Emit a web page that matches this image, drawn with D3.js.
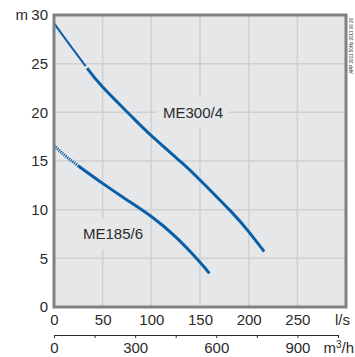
<!DOCTYPE html>
<html><head><meta charset="utf-8">
<script src="https://cdn.jsdelivr.net/npm/d3@7"></script>
<style>body{margin:0;background:#fff}svg{display:block}text{font-family:"Liberation Sans",Arial,sans-serif;fill:#2b2b2b}</style>
</head><body><div id="c"></div>
<script>
// Data (Q in l/s, H in m)
const me300Thin  = [[0,29.15],[16,26.95],[32.5,24.75]];
const me300Thick = [[34,24.55],[50,22.6],[78,19.75],[100,17.6],[131,14.85],[150,13.05],[182,9.8],[200,7.75],[216,5.7]];
const me185Dotted = [[0,16.57],[12,15.5],[25,14.5]];
const me185Solid  = [[25,14.5],[50,12.7],[75,11.0],[100,9.3],[125,7.2],[150,4.6],[159.6,3.46]];
const yTicks = [0,5,10,15,20,25,30];
const xTicks = [0,50,100,150,200,250];
const m3hTicks = [0,150,300,450,600,750,900,1050];
const m3hLabels = [0,300,600,900];
const curveLabels = [{text:"ME300/4", q:142.8, h:20}, {text:"ME185/6", q:60.6, h:7.5}];
const sideNote = "APP 2001 50Hz 2013 06 26";

const W=355,H=357;
const svg=d3.select("#c").append("svg").attr("width",W).attr("height",H);
const x=d3.scaleLinear().domain([0,300]).range([54,346]);
const y=d3.scaleLinear().domain([0,30]).range([307,15]);
const xm=d3.scaleLinear().domain([0,1050]).range([54,338]);

// plot background
svg.append("rect").attr("x",x(0)).attr("y",y(30)).attr("width",x(300)-x(0)).attr("height",y(0)-y(30)).attr("fill","#e6e7e9");
// grid
const grid=svg.append("g").attr("stroke","#cfd0d2").attr("stroke-width",1.5);
grid.selectAll("line.h").data(yTicks.filter(d=>d>0&&d<30)).join("line")
  .attr("x1",x(0)).attr("x2",x(300)).attr("y1",d=>y(d)).attr("y2",d=>y(d));
grid.selectAll("line.v").data(xTicks.filter(d=>d>0)).join("line")
  .attr("y1",y(0)).attr("y2",y(30)).attr("x1",d=>x(d)).attr("x2",d=>x(d));

// curve label boxes + labels
const lab=svg.append("g");
curveLabels.forEach(l=>{
  lab.append("rect").attr("x",x(l.q)-36).attr("y",y(l.h)-15.5).attr("width",72).attr("height",31).attr("fill","#e6e7e9");
  lab.append("text").attr("x",x(l.q)).attr("y",y(l.h)).attr("dy","0.35em").attr("text-anchor","middle").attr("font-size",15).text(l.text);
});

// curves
const line=d3.line().x(d=>x(d[0])).y(d=>y(d[1])).curve(d3.curveNatural);
const blue="#0a5fa6";
svg.append("path").attr("d",line(me300Thin)).attr("fill","none").attr("stroke",blue).attr("stroke-width",2);
svg.append("path").attr("d",line(me300Thick)).attr("fill","none").attr("stroke",blue).attr("stroke-width",3);
svg.append("path").attr("d",line(me185Dotted)).attr("fill","none").attr("stroke",blue).attr("stroke-width",3).attr("stroke-dasharray","1.2,1");
svg.append("path").attr("d",line(me185Solid)).attr("fill","none").attr("stroke",blue).attr("stroke-width",3);

// border
svg.append("rect").attr("x",x(0)).attr("y",y(30)).attr("width",x(300)-x(0)).attr("height",y(0)-y(30))
  .attr("fill","none").attr("stroke","#808184").attr("stroke-width",3);

// y axis
const ya=svg.append("g").attr("transform",`translate(${x(0)-1},0)`)
  .call(d3.axisLeft(y).tickValues(yTicks).tickSize(0).tickPadding(5));
ya.select(".domain").remove();
ya.selectAll("text").attr("font-size",15).attr("font-family",null).attr("fill","#2b2b2b");
svg.append("text").attr("x",28).attr("y",y(30)).attr("dy","0.35em").attr("text-anchor","end").attr("font-size",15).text("m");

// x axis l/s
const xa=svg.append("g").attr("transform",`translate(0,${y(0)})`)
  .call(d3.axisBottom(x).tickValues(xTicks).tickSize(0).tickPadding(7.5));
xa.select(".domain").remove();
xa.selectAll("text").attr("font-size",15).attr("font-family",null).attr("fill","#2b2b2b");
svg.append("text").attr("x",350).attr("y",320).attr("dy","0.35em").attr("text-anchor","end").attr("font-size",15).text("l/s");

// x axis m3/h
const ma=svg.append("g").attr("transform","translate(0,335)")
  .call(d3.axisBottom(xm).tickValues(m3hTicks).tickSize(3).tickPadding(4.5).tickSizeOuter(0)
    .tickFormat(d=>m3hLabels.includes(d)?d:""));
ma.select(".domain").attr("stroke","#2b2b2b");
ma.selectAll("line").attr("stroke","#2b2b2b");
ma.selectAll("text").attr("font-size",15).attr("font-family",null).attr("fill","#2b2b2b");
const mt=svg.append("text").attr("x",354).attr("y",348).attr("dy","0.35em").attr("text-anchor","end").attr("font-size",15);
mt.append("tspan").text("m");
mt.append("tspan").attr("font-size",10).attr("dy","-5").text("3");
mt.append("tspan").attr("dy","5").text("/h");

// side note
svg.append("text").attr("transform","translate(353,18) rotate(-90)").attr("text-anchor","end")
  .attr("font-size",4.5).attr("fill","#555").text(sideNote);
</script></body></html>
